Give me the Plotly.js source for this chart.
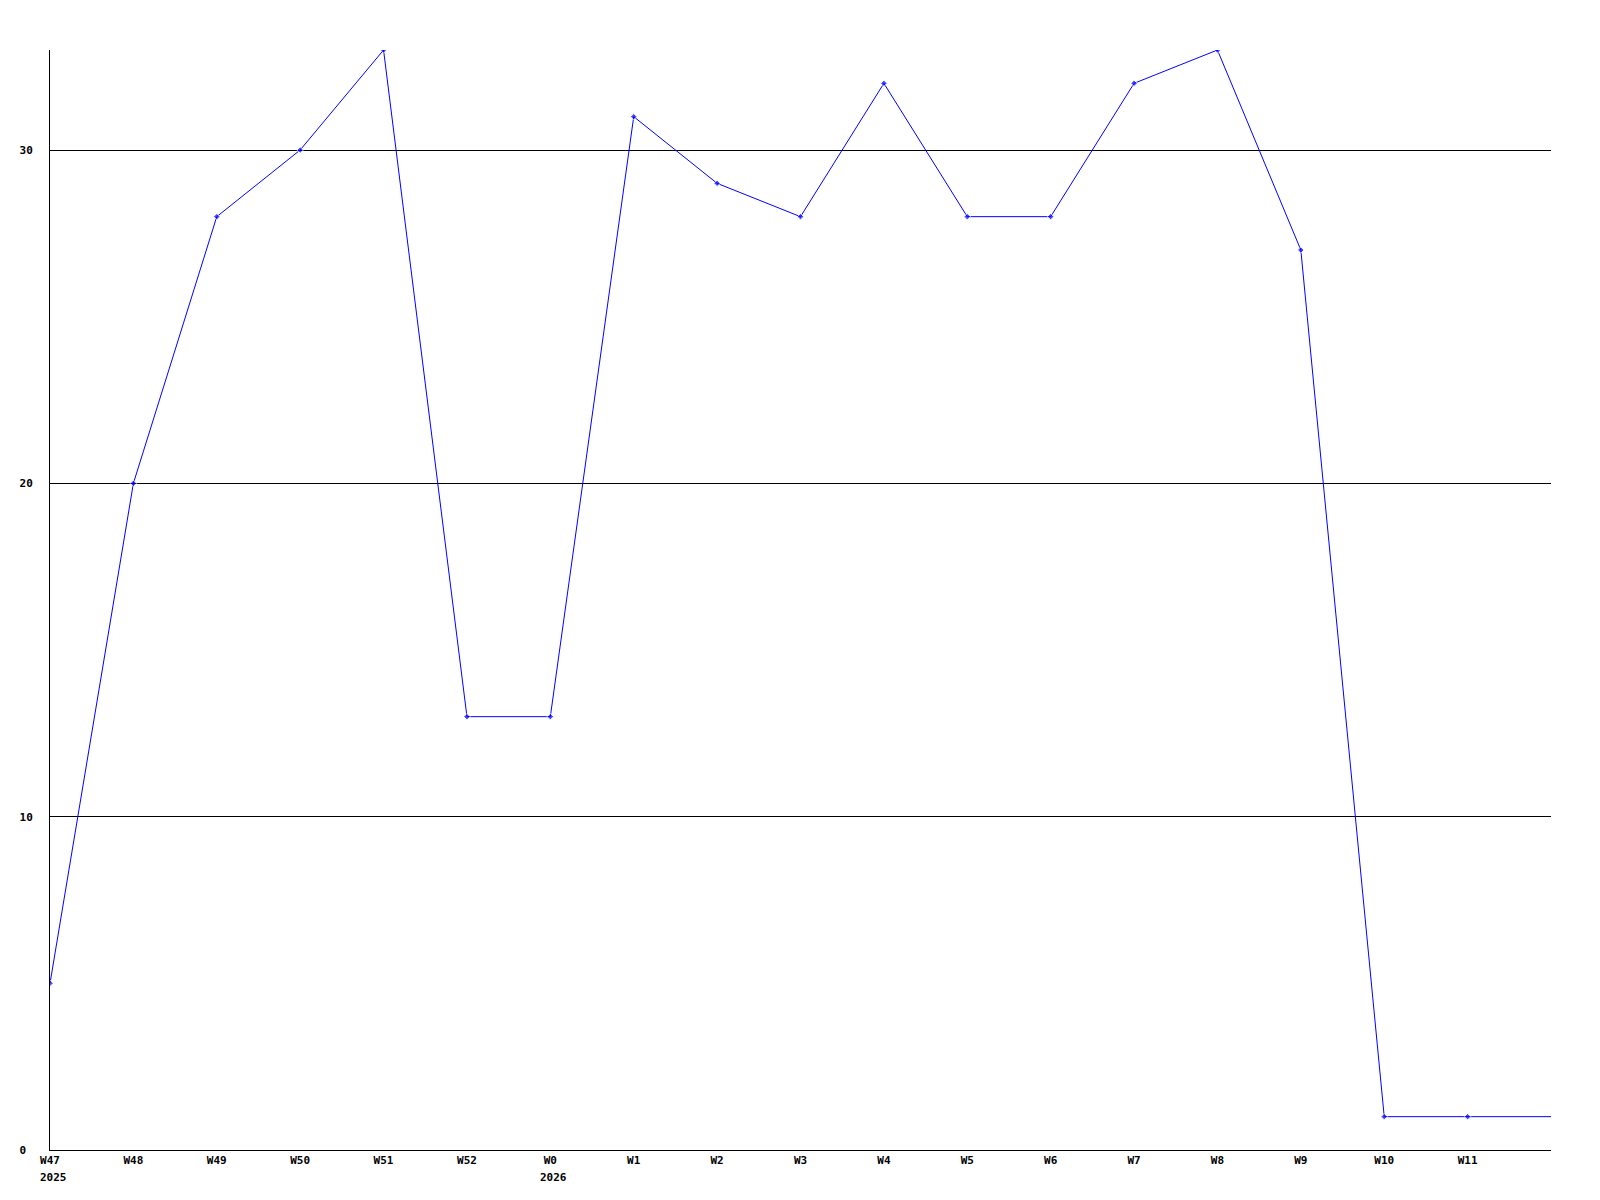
<!DOCTYPE html>
<html>
<head>
<meta charset="utf-8">
<script src="https://cdn.plot.ly/plotly-3.0.1.min.js"></script>
<style>html,body{margin:0;padding:0;background:#fff;}#chart{width:1600px;height:1200px;}</style>
</head>
<body>
<div id="chart"></div>
<script>
const weeks = ["W47","W48","W49","W50","W51","W52","W0","W1","W2","W3","W4","W5","W6","W7","W8","W9","W10","W11","W12"];
const values = [5,20,28,30,33,13,13,31,29,28,32,28,28,32,33,27,1,1,1];
const tickWeeks = ["W47","W48","W49","W50","W51","W52","W0","W1","W2","W3","W4","W5","W6","W7","W8","W9","W10","W11"];
const yearLabels = [{week:"W47", year:"2025"},{week:"W0", year:"2026"}];
const yTickVals = [0,10,20,30];
const yTickText = ["0\u00a0","10","20","30"];

const font = {family:"DejaVu Sans Mono, monospace", size:11, color:"#000"};
const markerSizes = weeks.map((w, i) => (i === weeks.length - 1 ? 0 : 5));

const trace = {
  x: weeks, y: values, type:"scatter", mode:"lines+markers",
  line:{color:"#0000ff", width:1},
  marker:{color:"#0000ff", size:markerSizes, symbol:"diamond"},
  cliponaxis:true, hoverinfo:"x+y"
};

const layout = {
  width:1600, height:1200,
  margin:{l:50, r:49, t:50, b:50},
  paper_bgcolor:"#fff", plot_bgcolor:"#fff",
  showlegend:false,
  font: font,
  xaxis:{
    type:"category", range:[0,18], showgrid:false, zeroline:false,
    showline:true, linecolor:"#000", linewidth:1,
    tickmode:"array", tickvals:tickWeeks, ticktext:tickWeeks,
    ticks:"", ticklen:0, tickfont:{family:font.family, size:11, color:"#000", weight:"bold"}
  },
  yaxis:{
    range:[0,33], showgrid:true, gridcolor:"#000", gridwidth:1, zeroline:false,
    showline:true, linecolor:"#000", linewidth:1,
    tickmode:"array", tickvals:yTickVals, ticktext:yTickText,
    ticks:"", ticklabelstandoff:14,
    tickfont:{family:font.family, size:11, color:"#000", weight:"bold"}
  },
  annotations: yearLabels.map(d => ({
    x:d.week, y:0, xref:"x", yref:"y", text:d.year, showarrow:false,
    xanchor:"left", yanchor:"top", xshift:-12, yshift:-19,
    font:{family:font.family, size:11, color:"#000", weight:"bold"}
  }))
};

Plotly.newPlot("chart", [trace], layout, {displayModeBar:false, staticPlot:true});
</script>
</body>
</html>
